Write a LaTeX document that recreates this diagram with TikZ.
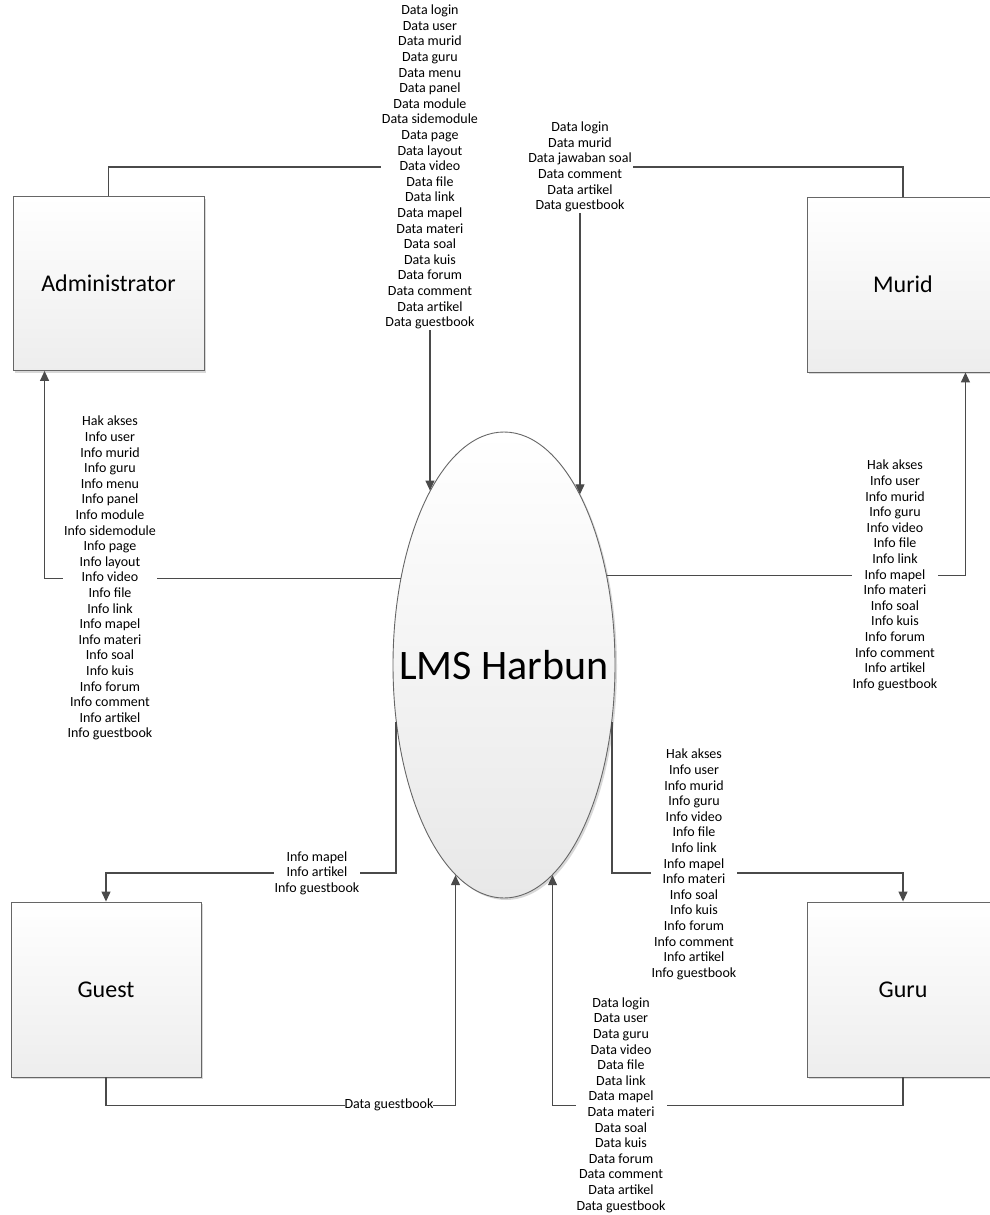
\documentclass[tikz,border=0pt]{standalone}
\usepackage{fontspec}
\setmainfont{Carlito}
\usetikzlibrary{arrows.meta,shapes.geometric,shadows}
\definecolor{linegray}{HTML}{4A4A4A}
\definecolor{edgegray}{HTML}{666666}
\begin{document}
\begin{tikzpicture}[x=1pt,y=-1pt,
  entity/.style={draw=edgegray, line width=0.9pt, top color=white, bottom color=black!7,
    minimum width=191pt, minimum height=174pt, inner sep=0pt,
    font=\fontsize{24}{28}\selectfont,
    drop shadow={shadow xshift=2pt,shadow yshift=-2pt,fill=black!30,opacity=0.5}},
  proc/.style={ellipse, draw=edgegray, line width=0.9pt, top color=white, bottom color=black!9,
    minimum width=222pt, minimum height=466pt, inner sep=0pt,
    label={[font=\fontsize{42}{48}\selectfont]center:LMS Harbun},
    drop shadow={shadow xshift=2pt,shadow yshift=-2pt,fill=black!30,opacity=0.5}},
  flow/.style={draw=linegray, line width=1.2pt, -{Triangle[length=10pt,width=9pt]}},
  lbl/.style={fill=white, inner xsep=1pt, inner ysep=0.5pt, align=center,
    font=\fontsize{14}{15.6}\selectfont},
]
\useasboundingbox (0,0) rectangle (990,1215);
\clip (0,0) rectangle (990,1215);

% entities and process
\node[entity] (admin) at (108.5,283.5) {Administrator};
\node[entity, minimum width=192pt, minimum height=175pt] (murid) at (903,284.5) {Murid};
\node[entity, minimum width=190pt, minimum height=175pt] (guest) at (106,989.5) {Guest};
\node[entity, minimum width=192pt, minimum height=175pt] (guru) at (903,989.5) {Guru};
\node[proc] (el) at (504,665) {};

% helper coordinates
\coordinate (yTop) at (0,167);
\coordinate (yMid) at (0,873);
\coordinate (xAI) at (110,0);
\coordinate (xMI) at (895,0);

% connectors
\draw[flow] (admin.north) |- (el.113 |- yTop) -- (el.113);
\draw[flow] (murid.north) |- (el.66 |- yTop) -- (el.66);
\draw[flow] (el.140) -| ([xshift=32pt]admin.south west);
\draw[flow] (el.41) -| ([xshift=-34pt]murid.south east);
\draw[flow] (el.208) -- (el.208 |- yMid) -| (guest.north);
\draw[flow] (el.332) -- (el.332 |- yMid) -| (guru.north);
\draw[flow] (guest.south) -- ++(0,28) -| (el.257);
\draw[flow] (guru.south) -- ++(0,28) -| (el.283);

% labels
\node[lbl] (dA) at (el.113 |- yTop) {Data login\\Data user\\Data murid\\Data guru\\Data menu\\Data panel\\Data module\\Data sidemodule\\Data page\\Data layout\\Data video\\Data file\\Data link\\Data mapel\\Data materi\\Data soal\\Data kuis\\Data forum\\Data comment\\Data artikel\\Data guestbook};
\node[lbl] (dM) at (el.66 |- yTop) {Data login\\Data murid\\Data jawaban soal\\Data comment\\Data artikel\\Data guestbook};
\node[lbl] (iA) at (xAI |- el.140) {Hak akses\\Info user\\Info murid\\Info guru\\Info menu\\Info panel\\Info module\\Info sidemodule\\Info page\\Info layout\\Info video\\Info file\\Info link\\Info mapel\\Info materi\\Info soal\\Info kuis\\Info forum\\Info comment\\Info artikel\\Info guestbook};
\node[lbl] (iM) at (xMI |- el.41) {Hak akses\\Info user\\Info murid\\Info guru\\Info video\\Info file\\Info link\\Info mapel\\Info materi\\Info soal\\Info kuis\\Info forum\\Info comment\\Info artikel\\Info guestbook};
\node[lbl] (iG) at (317,873) {Info mapel\\Info artikel\\Info guestbook};
\node[lbl] (iR) at (694,864.5) {Hak akses\\Info user\\Info murid\\Info guru\\Info video\\Info file\\Info link\\Info mapel\\Info materi\\Info soal\\Info kuis\\Info forum\\Info comment\\Info artikel\\Info guestbook};
\node[lbl, inner sep=0pt] (dG) at (389,1105) {Data guestbook};
\node[lbl] (dR) at (621,1105) {Data login\\Data user\\Data guru\\Data video\\Data file\\Data link\\Data mapel\\Data materi\\Data soal\\Data kuis\\Data forum\\Data comment\\Data artikel\\Data guestbook};
\end{tikzpicture}
\end{document}
